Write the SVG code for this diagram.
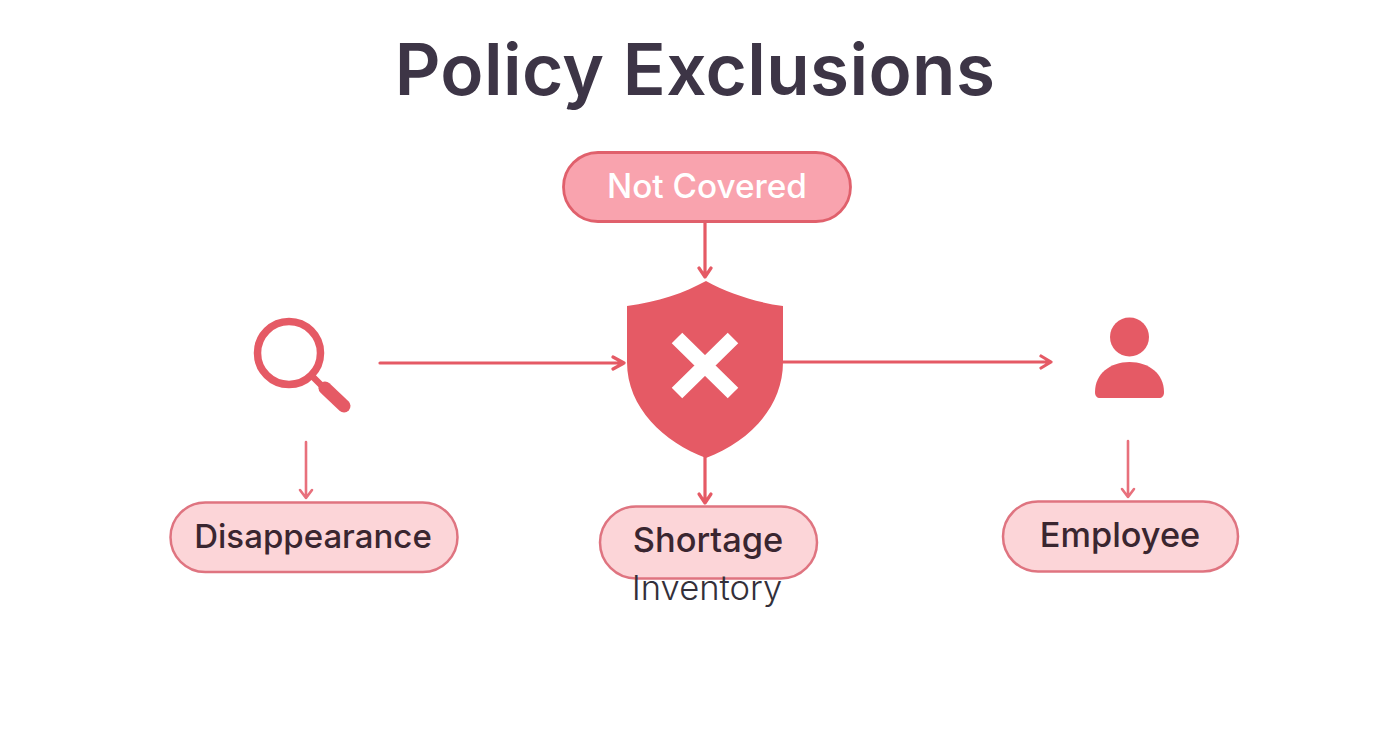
<svg xmlns="http://www.w3.org/2000/svg" width="1392" height="752" viewBox="0 0 1392 752">
<style>
text{font-family:Inter,"Liberation Sans",sans-serif;text-anchor:middle}
.pill{fill:#fcd5d8;stroke:#df7480;stroke-width:2.5}
.lbl{font-weight:500;fill:#3a2630}
.icon{fill:#e55a65}
.c1{fill:none;stroke:#e55a65;stroke-width:3.2;stroke-linecap:round;stroke-linejoin:round}
.c2{fill:none;stroke:#e8707c;stroke-width:2.6;stroke-linecap:round;stroke-linejoin:round}
</style>
<rect width="1392" height="752" fill="#ffffff"/>
<text id="title" x="695" y="95" font-size="71" font-weight="600" fill="#3d3546" letter-spacing="0.4">Policy Exclusions</text>
<g id="connectors">
<path class="c1" d="M705 223V277M699 268L705 277L711 268"/>
<path class="c1" d="M380 363H624M613 357L624 363L613 369"/>
<path class="c1" d="M782 362H1051M1041 356L1051 362L1041 368"/>
<path class="c2" d="M306 442V498M300 490L306 498L312 490"/>
<path class="c1" d="M705 456V503M699 494L705 503L711 494"/>
<path class="c2" d="M1128 441V497M1122 489L1128 497L1134 489"/>
</g>
<g id="not-covered">
<rect x="563.500" y="152.500" width="287" height="69" rx="34.500" fill="#f9a3ae" stroke="#e0606c" stroke-width="2.800"/>
<text x="707" y="198" font-size="33.300" font-weight="500" fill="#ffffff">Not Covered</text>
</g>
<g id="shield">
<path class="icon" d="M706 281C684 293 658 302 627 306V362C627 408 664 442 706 458C748 442 783 408 783 362V306C754 302 728 293 706 281Z"/>
<path d="M677 338L733 393M733 338L677 393" fill="none" stroke="#ffffff" stroke-width="15"/>
</g>
<g id="magnifier">
<circle cx="289" cy="353" r="31.500" fill="none" stroke="#e55a65" stroke-width="7.500"/>
<path d="M311 375L323 387" stroke="#e55a65" stroke-width="6.500" fill="none"/>
<path d="M325 388L344 406" stroke="#e55a65" stroke-width="13" stroke-linecap="round" fill="none"/>
</g>
<g id="person">
<circle class="icon" cx="1129.500" cy="337" r="19.500"/>
<path class="icon" d="M1095 392C1095 374 1110 362 1129.500 362C1149 362 1164 374 1164 392C1164 396 1162 398 1159 398H1100C1097 398 1095 396 1095 392Z"/>
</g>
<g id="disappearance">
<rect class="pill" x="170.500" y="502.500" width="287" height="69.500" rx="34.750"/>
<text class="lbl" x="313" y="548" font-size="33">Disappearance</text>
</g>
<g id="shortage">
<rect class="pill" x="600" y="506.500" width="217" height="72" rx="36"/>
<text class="lbl" x="708" y="552" font-size="34.400">Shortage</text>
<text x="707" y="600" font-size="34.600" font-weight="300" fill="#33303a">Inventory</text>
</g>
<g id="employee">
<rect class="pill" x="1003" y="501.500" width="235" height="70" rx="35"/>
<text class="lbl" x="1120" y="547" font-size="34.300">Employee</text>
</g>
</svg>
